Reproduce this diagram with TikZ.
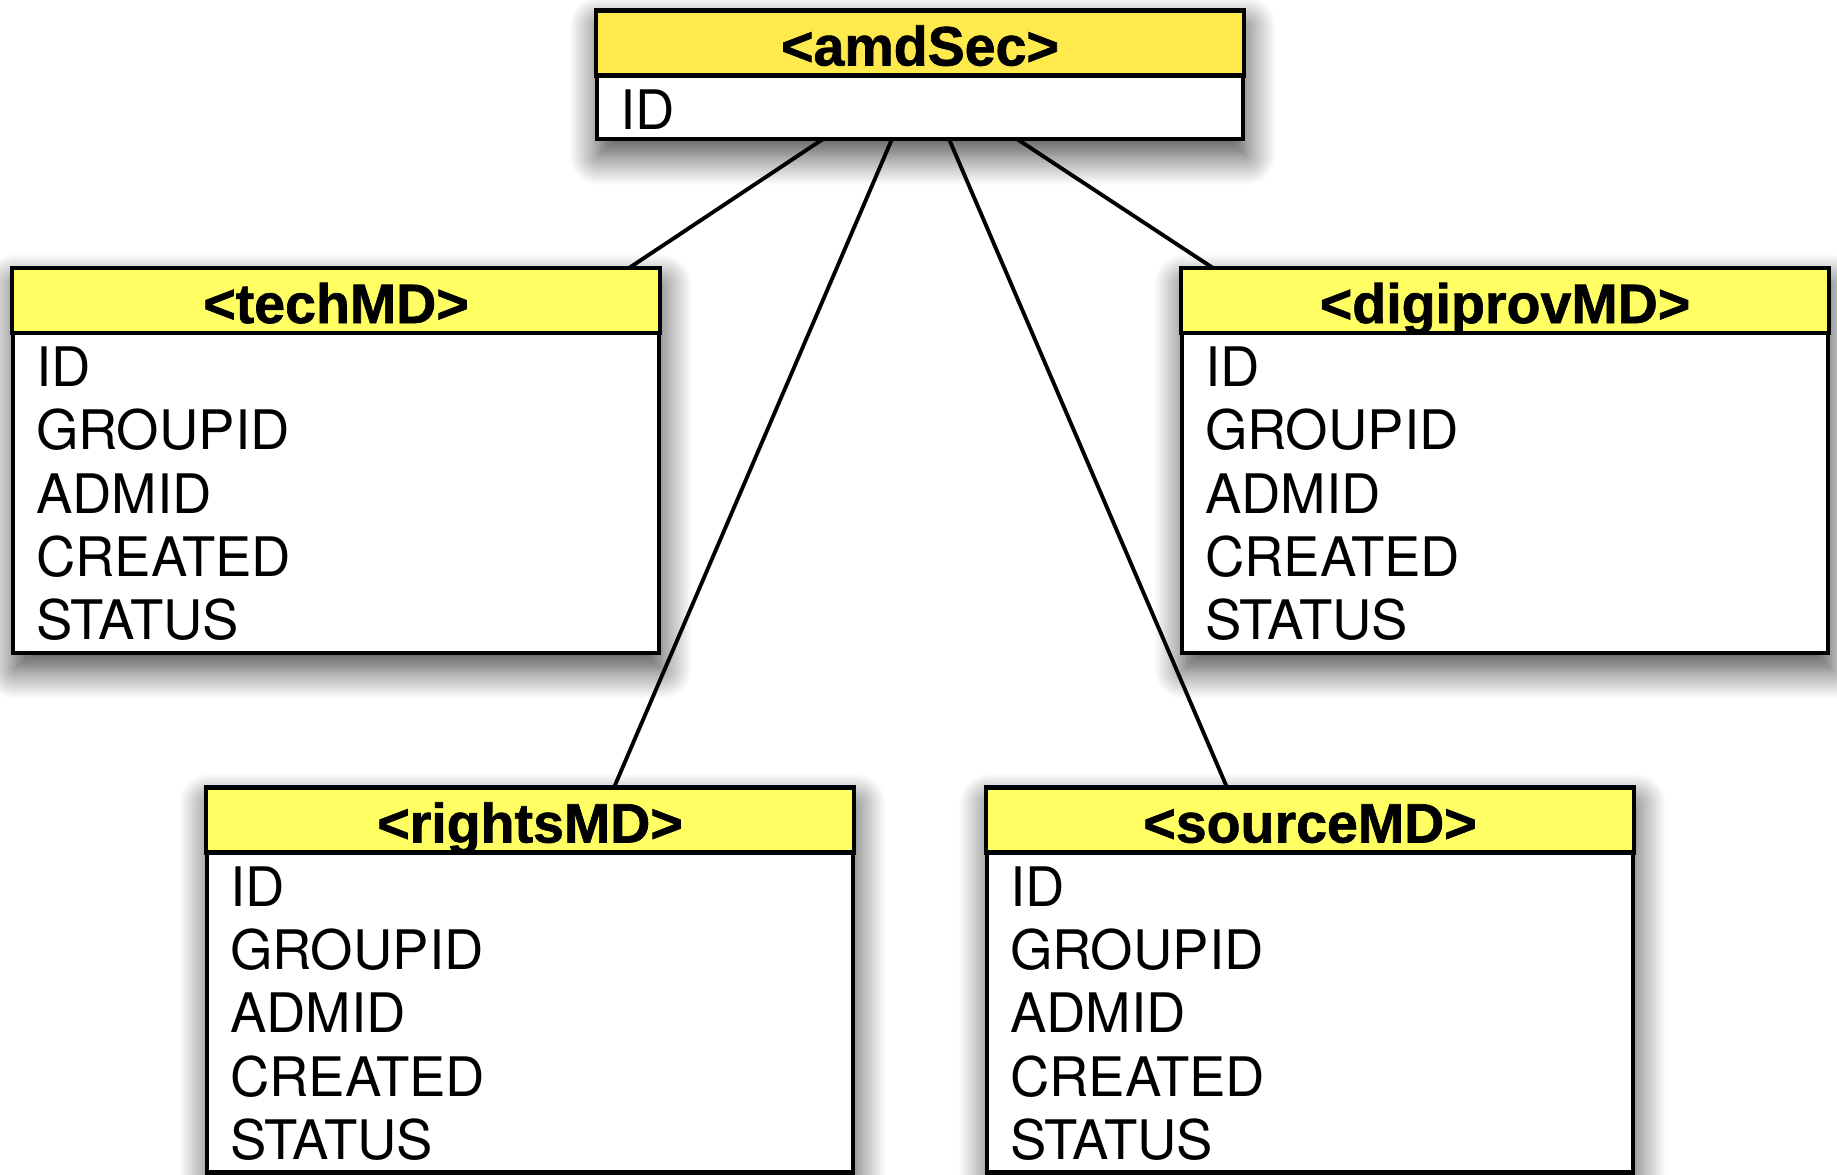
\documentclass[tikz,border=0pt]{standalone}
\usepackage{fontspec}
\setmainfont{TeX Gyre Heros}
\newfontfamily\hdrfont[FakeBold=1.2]{Liberation Sans Bold}
\usetikzlibrary{positioning,backgrounds,shadows.blur}
\definecolor{amdyellow}{RGB}{255,234,78}
\definecolor{mdyellow}{RGB}{255,255,100}
\newcommand{\mdfields}{ID\\GROUPID\\ADMID\\CREATED\\STATUS}

\tikzset{
  hdr/.style={draw, line width=1.3pt, fill=mdyellow, minimum width=6.48cm, minimum height=0.65cm,
    inner sep=0pt, outer sep=0pt, text height=0.45cm, text depth=0cm,
    font=\fontsize{15.8}{18}\hdrfont},
  fields/.style={draw, line width=1.3pt, fill=white, text width=6cm, inner xsep=0.23cm, inner ysep=0pt,
    outer sep=0pt, align=left, text height=0.535cm, text depth=#1, font=\fontsize{15.5}{18.03}\selectfont},
  fields/.default=2.665cm,
  link/.style={line width=1.1pt},
  boxshadow/.style={blur shadow={shadow xshift=0.03cm, shadow yshift=-0.16cm,
    shadow blur radius=0.3cm, shadow blur steps=16, shadow opacity=75}}
}

\begin{document}
\begin{tikzpicture}
    \useasboundingbox (0,0) rectangle (18.37,-11.74);

    % Parent section
    \node[hdr, fill=amdyellow] (amdH) at (9.20,-0.43) {<amdSec>};
    \node[fields=0.10cm, below=0pt of amdH] (amdB) {ID};

    % Child metadata boxes
    \foreach \nm/\lbl/\x/\y in {tech/techMD/3.36/-3.005, digi/digiprovMD/15.05/-3.005,
                                rights/rightsMD/5.30/-8.20, source/sourceMD/13.10/-8.20} {
        \node[hdr] (\nm H) at (\x,\y) {<\lbl>};
        \node[fields, below=0pt of \nm H] (\nm B) {\mdfields};
    }

    % Connectors
    \draw[link] ([xshift=-0.97cm]amdB.south) -- ([xshift=-0.31cm]techH.north east);
    \draw[link] ([xshift=-0.28cm]amdB.south) -- ([xshift=0.84cm]rightsH.north);
    \draw[link] ([xshift=0.29cm]amdB.south) -- ([xshift=-0.83cm]sourceH.north);
    \draw[link] ([xshift=0.97cm]amdB.south) -- ([xshift=0.32cm]digiH.north west);

    % Shadows
    \begin{scope}[on background layer]
        \foreach \nm in {amd, tech, digi, rights, source} {
            \path[boxshadow] (\nm H.north west) rectangle (\nm B.south east);
        }
    \end{scope}
\end{tikzpicture}
\end{document}
